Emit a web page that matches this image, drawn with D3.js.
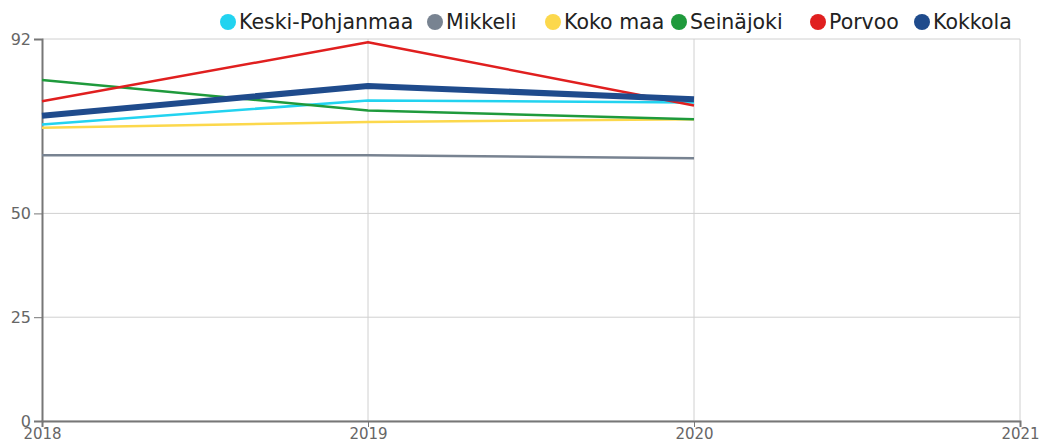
<!DOCTYPE html>
<meta charset="utf-8">
<script src="https://d3js.org/d3.v7.min.js"></script>
<style>
  body { margin: 0; background: #fff; }
  text { font-family: "DejaVu Sans", sans-serif; }
</style>
<svg id="chart" width="1039" height="445"></svg>
<script>
// data
var years = [2018, 2019, 2020];
var seriesNames = ["Keski-Pohjanmaa", "Mikkeli", "Koko maa", "Seinäjoki", "Porvoo", "Kokkola"];
var seriesColors = ["#22d3f0", "#788391", "#fcd84c", "#1f9a3c", "#e01f1f", "#1f4b8c"];
var keskiPohjanmaa = [71.4, 77.2, 76.7];
var mikkeli = [64.0, 64.0, 63.3];
var kokoMaa = [70.6, 72.0, 72.7];
var seinajoki = [82.1, 74.8, 72.7];
var porvoo = [77.0, 91.2, 76.0];
var kokkola = [73.5, 80.7, 77.5];
var yTicks = [0, 25, 50, 92];
var xTicks = [2018, 2019, 2020, 2021];

var seriesValues = [keskiPohjanmaa, mikkeli, kokoMaa, seinajoki, porvoo, kokkola];
var lineWidths = [2.5, 2.5, 2.5, 2.5, 2.5, 6];

var svg = d3.select("#chart");
var margin = {left: 42, right: 19, top: 39, bottom: 24};
var width = 1039 - margin.left - margin.right;
var height = 445 - margin.top - margin.bottom;

var g = svg.append("g").attr("transform", "translate(" + margin.left + "," + margin.top + ")");

var x = d3.scaleLinear().domain([2018, 2021]).range([0, width]);
var y = d3.scaleLinear().domain([0, 92]).range([height, 0]);

// grid lines
g.append("g").selectAll("line").data(yTicks).enter().append("line")
  .attr("x1", 0).attr("x2", width)
  .attr("y1", d => y(d)).attr("y2", d => y(d))
  .attr("stroke", "#d0d0d0").attr("stroke-width", 1);
g.append("g").selectAll("line").data(xTicks.slice(1)).enter().append("line")
  .attr("x1", d => x(d)).attr("x2", d => x(d))
  .attr("y1", 0).attr("y2", height)
  .attr("stroke", "#d0d0d0").attr("stroke-width", 1);

// axes
var yAxis = g.append("g")
  .call(d3.axisLeft(y).tickValues(yTicks).tickSize(8).tickPadding(3));
var xAxis = g.append("g").attr("transform", "translate(0," + height + ")")
  .call(d3.axisBottom(x).tickValues(xTicks).tickFormat(d3.format("d")).tickSize(6).tickPadding(1));
[yAxis, xAxis].forEach(function(a) {
  a.select(".domain").attr("stroke", "#777").attr("stroke-width", 2);
  a.selectAll(".tick line").attr("stroke", "#777");
  a.selectAll(".tick text").attr("fill", "#666")
    .style("font-family", "'DejaVu Sans', sans-serif");
});
yAxis.selectAll(".tick text").style("font-size", "16px");
xAxis.selectAll(".tick text").style("font-size", "15px");

// lines
var line = d3.line().x((d, i) => x(years[i])).y(d => y(d));
g.append("g").selectAll("path").data(seriesValues).enter().append("path")
  .attr("d", d => line(d))
  .attr("fill", "none")
  .attr("stroke", (d, i) => seriesColors[i])
  .attr("stroke-width", (d, i) => lineWidths[i])
  .attr("stroke-linejoin", "round");

// legend
var legendX = [228, 435, 553, 679, 818, 922];
var legend = svg.append("g").selectAll("g").data(seriesNames).enter().append("g")
  .attr("transform", (d, i) => "translate(" + legendX[i] + ",22)");
legend.append("circle").attr("r", 8).attr("fill", (d, i) => seriesColors[i]);
legend.append("text").attr("x", 11).attr("y", 7)
  .style("font-size", "20.5px").attr("fill", "#222").text(d => d);
</script>
